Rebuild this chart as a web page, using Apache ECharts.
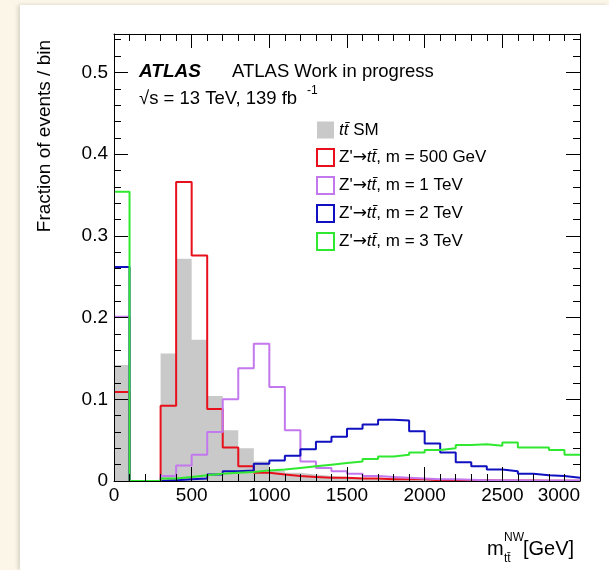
<!DOCTYPE html>
<html>
<head>
<meta charset="utf-8">
<script src="https://cdn.jsdelivr.net/npm/echarts@6/dist/echarts.min.js"></script>
<style>
  html, body { margin: 0; padding: 0; background: #fcf6e8; }
  #main { position: absolute; left: 20px; top: 5px; width: 589px; height: 565px; background: #fff; box-shadow: -2px 0 4px rgba(0,0,0,0.15); }
</style>
</head>
<body>
<div id="main"></div>
<script>
// bin low edges (GeV), 100 GeV bins
const binLow = [0, 100, 200, 300, 400, 500, 600, 700, 800, 900,
    1000, 1100, 1200, 1300, 1400, 1500, 1600, 1700, 1800, 1900,
    2000, 2100, 2200, 2300, 2400, 2500, 2600, 2700, 2800, 2900]
const xMax = 3000
const yMax = 0.547
const xTicks = [0, 500, 1000, 1500, 2000, 2500, 3000]

// fraction of events per bin
const smTT = [0.142, 0, 0, 0.156, 0.272, 0.173, 0.104, 0.062, 0.040, 0.024,
    0.013, 0.010, 0.008, 0.006, 0.005, 0.004, 0.003, 0.003, 0.002, 0.002,
    0.001, 0.001, 0.001, 0.001, 0.0005, 0.0005, 0.0004, 0.0003, 0.0003, 0.0002]
const zp500 = [0.109, 0, 0, 0.092, 0.366, 0.276, 0.088, 0.041, 0.018, 0.010,
    0.008, 0.006, 0.005, 0.004, 0.004, 0.003, 0.003, 0.002, 0.002, 0.002,
    0.001, 0.001, 0.001, 0.001, 0.0005, 0.0005, 0.0005, 0.0003, 0.0003, 0.0003]
const zp1000 = [0.201, 0, 0, 0.006, 0.019, 0.032, 0.060, 0.100, 0.138, 0.168,
    0.115, 0.062, 0.024, 0.016, 0.012, 0.009, 0.006, 0.005, 0.004, 0.003,
    0.002, 0.002, 0.0015, 0.001, 0.001, 0.001, 0.0005, 0.0005, 0.0005, 0.0005]
const zp2000 = [0.262, 0, 0, 0.001, 0.002, 0.003, 0.008, 0.012, 0.013, 0.021,
    0.025, 0.031, 0.039, 0.048, 0.054, 0.064, 0.069, 0.075, 0.074, 0.061,
    0.046, 0.035, 0.023, 0.018, 0.014, 0.012, 0.009, 0.007, 0.006, 0.004]
const zp3000 = [0.354, 0, 0, 0.003, 0.005, 0.007, 0.009, 0.010, 0.011, 0.013,
    0.014, 0.016, 0.018, 0.020, 0.022, 0.024, 0.027, 0.030, 0.032, 0.035,
    0.038, 0.040, 0.044, 0.045, 0.043, 0.047, 0.041, 0.041, 0.038, 0.032]

const ttbar = 'tt\u0304'
const arrow = '\u2192'
const names = [
    ttbar + ' SM',
    "Z'" + arrow + ttbar + ', m = 500 GeV',
    "Z'" + arrow + ttbar + ', m = 1 TeV',
    "Z'" + arrow + ttbar + ', m = 2 TeV',
    "Z'" + arrow + ttbar + ', m = 3 TeV'
]
const colors = ['#c9c9c9', '#e8101a', '#c478ee', '#1010c0', '#30e830']

const font = 'Liberation Sans'
const black = '#000'

const chartDom = document.getElementById('main')
const myChart = echarts.init(chartDom)

// histogram outline: point at each low edge, plus the upper edge of the last bin
const toSteps = (vals) => binLow.map((x, i) => [x, vals[i]]).concat([[xMax, vals[vals.length - 1]]])

const histSeries = (idx, vals, filled) => ({
    name: names[idx],
    type: 'line',
    step: 'end',
    symbol: 'none',
    xAxisIndex: 0,
    yAxisIndex: 0,
    data: toSteps(vals),
    animation: false,
    itemStyle: { color: colors[idx] },
    lineStyle: { color: colors[idx], width: filled ? 0 : 2 },
    areaStyle: filled ? { color: colors[idx], opacity: 1 } : null
})

const lineStyle = { color: black, width: 1 }
const xBase = {
    type: 'value', min: 0, max: xMax, interval: 500, z: 5,
    axisLine: { onZero: false, lineStyle },
    axisTick: { inside: true, length: 14, lineStyle },
    minorTick: { show: true, splitNumber: 5, length: 7, lineStyle },
    splitLine: { show: false }
}
const yBase = {
    type: 'value', min: 0, max: yMax, interval: 0.1, z: 5,
    axisLine: { onZero: false, lineStyle },
    axisTick: { inside: true, length: 14, lineStyle },
    splitLine: { show: false }
}
// second y axis set in an overlapping grid: small ticks every 0.02
const yMinor = {
    type: 'value', min: 0, max: yMax, interval: 0.02, z: 5, gridIndex: 1,
    axisLine: { show: false },
    axisTick: { inside: true, length: 7, lineStyle },
    axisLabel: { show: false },
    splitLine: { show: false }
}

const option = {
    animation: false,
    grid: [
        { left: 94, top: 29, width: 466, height: 447 },
        { left: 94, top: 29, width: 466, height: 447 }
    ],
    xAxis: [
        {
            ...xBase, gridIndex: 0, position: 'bottom',
            axisLabel: {
                margin: 5, fontSize: 19, fontFamily: font, color: black,
                alignMaxLabel: 'right',
                formatter: (v) => xTicks.includes(v) ? String(v) : ''
            }
        },
        { ...xBase, gridIndex: 0, position: 'top', axisLabel: { show: false } },
        { type: 'value', min: 0, max: xMax, gridIndex: 1, show: false }
    ],
    yAxis: [
        {
            ...yBase, gridIndex: 0, position: 'left',
            axisLabel: { margin: 6, fontSize: 19, fontFamily: font, color: black, showMaxLabel: false }
        },
        { ...yBase, gridIndex: 0, position: 'right', axisLabel: { show: false } },
        { ...yMinor, position: 'left' },
        { ...yMinor, position: 'right' }
    ],
    legend: {
        orient: 'vertical',
        left: 296,
        top: 116,
        padding: 0,
        itemWidth: 17,
        itemHeight: 17,
        itemGap: 9,
        selectedMode: false,
        formatter: (name) => name.replace(ttbar, '{i|' + ttbar + '}').replace(arrow, '{a|' + arrow + '}'),
        textStyle: {
            fontSize: 17, fontFamily: font, color: black, lineHeight: 18,
            rich: {
                i: { fontSize: 17, fontFamily: font, fontStyle: 'italic', color: black, lineHeight: 18 },
                a: { fontSize: 17, fontFamily: 'DejaVu Sans', color: black, lineHeight: 18 }
            }
        },
        data: names.map((n, i) => ({
            name: n,
            icon: 'rect',
            itemStyle: i === 0
                ? { color: colors[i], borderWidth: 0 }
                : { color: 'rgba(0,0,0,0)', borderColor: colors[i], borderWidth: 2 }
        }))
    },
    graphic: [
        {
            type: 'text', x: 119, y: 67,
            style: { text: 'ATLAS', fontSize: 19, fontWeight: 'bold', fontStyle: 'italic', fontFamily: font, fill: black, verticalAlign: 'middle' }
        },
        {
            type: 'text', x: 212, y: 67,
            style: { text: 'ATLAS Work in progress', fontSize: 18.5, fontFamily: font, fill: black, verticalAlign: 'middle' }
        },
        {
            type: 'text', x: 119, y: 94,
            style: { text: '\u221As = 13 TeV, 139 fb', fontSize: 18.5, fontFamily: font, fill: black, verticalAlign: 'middle' }
        },
        {
            type: 'text', x: 287, y: 86,
            style: { text: '-1', fontSize: 12, fontFamily: font, fill: black, verticalAlign: 'middle' }
        },
        {
            type: 'text', x: 25, y: 35, rotation: Math.PI / 2,
            style: { text: 'Fraction of events / bin', fontSize: 19, fontFamily: font, fill: black, align: 'right', verticalAlign: 'middle' }
        },
        {
            type: 'text', x: 467, y: 544,
            style: { text: 'm', fontSize: 20, fontFamily: font, fill: black, verticalAlign: 'middle' }
        },
        {
            type: 'text', x: 484, y: 533,
            style: { text: 'NW', fontSize: 12, fontFamily: font, fill: black, verticalAlign: 'middle' }
        },
        {
            type: 'text', x: 484, y: 554,
            style: { text: ttbar, fontSize: 12, fontFamily: font, fill: black, verticalAlign: 'middle' }
        },
        {
            type: 'text', x: 503, y: 544,
            style: { text: '[GeV]', fontSize: 20, fontFamily: font, fill: black, verticalAlign: 'middle' }
        }
    ],
    series: [
        histSeries(0, smTT, true),
        histSeries(1, zp500, false),
        histSeries(2, zp1000, false),
        histSeries(3, zp2000, false),
        histSeries(4, zp3000, false)
    ]
}

option && myChart.setOption(option)
</script>
</body>
</html>
